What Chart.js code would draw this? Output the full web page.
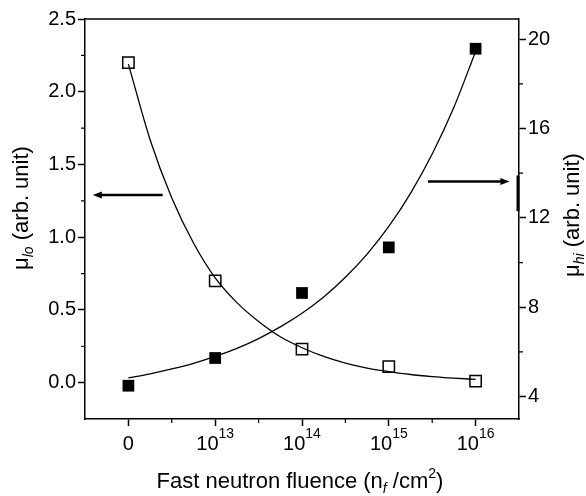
<!DOCTYPE html>
<html>
<head>
<meta charset="utf-8">
<script src="https://cdn.jsdelivr.net/npm/chart.js@4.4.1/dist/chart.umd.min.js"></script>
<style>
  body { margin: 0; background: #fff; }
  #wrap { width: 586px; height: 496px; }
</style>
</head>
<body>
<div id="wrap"><canvas id="chart"></canvas></div>
<script>
/* --------------- Data --------------------- */
const fluencePos = [0, 1, 2, 3, 4];
const fluenceExp = [null, 13, 14, 15, 16]; // "0", then 10^n
const muLo = [2.20, 0.70, 0.23, 0.11, 0.01];
const muHi = [4.49, 5.73, 8.64, 10.68, 19.57];
/* --------------- Fitted curves ------------------------------------------- */
const fitPos = [0, 0.25, 0.5, 0.75, 1, 1.25, 1.5, 1.75, 2, 2.25, 2.5, 2.75, 3, 3.25, 3.5, 3.75, 4];
const fitLo = [2.19, 1.67, 1.27, 0.96, 0.72, 0.55, 0.42, 0.315, 0.24, 0.18, 0.134, 0.10, 0.076, 0.056, 0.042, 0.031, 0.022];
const fitHi = [4.84, 5.02, 5.24, 5.49, 5.80, 6.16, 6.60, 7.12, 7.73, 8.46, 9.34, 10.38, 11.62, 13.10, 14.86, 16.95, 19.45];
/* --------------- Ticks --------------------- */
const loTicks = [0, 0.5, 1, 1.5, 2, 2.5];
const hiTicks = [4, 8, 12, 16, 20];
const xMinor = [0.5, 1.5, 2.5, 3.5];
const loMinor = [0.25, 0.75, 1.25, 1.75, 2.25];
const hiMinor = [6, 10, 14, 18];

const FONT = '"Liberation Sans", Arial, Helvetica, sans-serif';
const fontOf = (p) => (p.italic ? 'italic ' : '') + p.size + 'px ' + FONT;

const pts = (xs, ys) => xs.map((x, i) => ({ x: x, y: ys[i] }));

/* draw a row of text pieces (sub/superscripts) centred on cx */
function drawRich(ctx, parts, cx, baseY) {
  let w = 0;
  parts.forEach(p => { ctx.font = fontOf(p); p.w = ctx.measureText(p.t).width; w += p.w; });
  let x = cx - w / 2;
  parts.forEach(p => {
    ctx.font = fontOf(p);
    ctx.fillText(p.t, x, baseY + (p.dy || 0));
    x += p.w;
  });
}

function arrow(ctx, x1, x2, y) {
  // x2 is the tip
  const dir = Math.sign(x2 - x1);
  ctx.lineWidth = 2.5;
  ctx.beginPath();
  ctx.moveTo(x1, y);
  ctx.lineTo(x2 - dir * 6, y);
  ctx.stroke();
  ctx.beginPath();
  ctx.moveTo(x2, y);
  ctx.lineTo(x2 - dir * 9, y - 3.5);
  ctx.lineTo(x2 - dir * 9, y + 3.5);
  ctx.closePath();
  ctx.fill();
}

const decor = {
  id: 'decor',
  afterDraw(chart) {
    const { ctx, chartArea: a, scales } = chart;
    const x = scales.x, y = scales.y, y2 = scales.y2;
    ctx.save();
    ctx.strokeStyle = '#000';
    ctx.fillStyle = '#000';

    // top frame line
    ctx.lineWidth = 1.5;
    ctx.beginPath();
    ctx.moveTo(a.left, a.top);
    ctx.lineTo(a.right, a.top);
    ctx.stroke();

    // minor ticks
    ctx.lineWidth = 1.2;
    ctx.beginPath();
    xMinor.forEach(v => { const px = x.getPixelForValue(v); ctx.moveTo(px, a.bottom); ctx.lineTo(px, a.bottom + 4); });
    loMinor.forEach(v => { const py = y.getPixelForValue(v); ctx.moveTo(a.left, py); ctx.lineTo(a.left - 4, py); });
    hiMinor.forEach(v => { const py = y2.getPixelForValue(v); ctx.moveTo(a.right, py); ctx.lineTo(a.right + 4, py); });
    ctx.stroke();

    // thick mark on the right axis
    ctx.lineWidth = 3;
    ctx.beginPath();
    ctx.moveTo(a.right - 1, y2.getPixelForValue(13.9));
    ctx.lineTo(a.right - 1, y2.getPixelForValue(12.3));
    ctx.stroke();

    // x tick labels with powers of ten
    ctx.textAlign = 'left';
    ctx.textBaseline = 'alphabetic';
    fluencePos.forEach((v, i) => {
      const px = x.getPixelForValue(v);
      if (fluenceExp[i] === null) {
        drawRich(ctx, [{ t: '0', size: 20 }], px, 450);
      } else {
        drawRich(ctx, [{ t: '10', size: 20 }, { t: String(fluenceExp[i]), size: 14, dy: -12 }], px, 450);
      }
    });

    // x title
    drawRich(ctx, [
      { t: 'Fast neutron fluence (n', size: 22 },
      { t: 'f', size: 14, italic: true, dy: 5 },
      { t: ' /cm', size: 22 },
      { t: '2', size: 14, dy: -10 },
      { t: ')', size: 22 }
    ], (a.left + a.right) / 2 - 2, 488);

    // left title
    ctx.save();
    ctx.translate(27.5, 208);
    ctx.rotate(-Math.PI / 2);
    drawRich(ctx, [
      { t: 'μ', size: 22 },
      { t: 'lo', size: 14, italic: true, dy: 5 },
      { t: ' (arb. unit)', size: 22 }
    ], 0, 0);
    ctx.restore();

    // right title
    ctx.save();
    ctx.translate(578.5, 215);
    ctx.rotate(-Math.PI / 2);
    drawRich(ctx, [
      { t: 'μ', size: 22 },
      { t: 'hi', size: 14, italic: true, dy: 5 },
      { t: ' (arb. unit)', size: 22 }
    ], 0, 0);
    ctx.restore();

    // arrows pointing at the axes
    arrow(ctx, x.getPixelForValue(0.395), x.getPixelForValue(-0.41), y.getPixelForValue(1.29));
    arrow(ctx, x.getPixelForValue(3.45), x.getPixelForValue(4.39), y2.getPixelForValue(13.63));

    ctx.restore();
  }
};

const axisBase = {
  grid: { drawOnChartArea: false, tickLength: 7, tickWidth: 1.5, tickColor: '#000' },
  border: { color: '#000', width: 1.5 }
};

new Chart(document.getElementById('chart'), {
  type: 'scatter',
  plugins: [decor],
  data: {
    datasets: [
      {
        data: pts(fluencePos, muLo), yAxisID: 'y',
        pointStyle: 'rect', pointRadius: 8, borderWidth: 1.5,
        borderColor: '#000', backgroundColor: 'rgba(0,0,0,0)'
      },
      {
        data: pts(fluencePos, muHi), yAxisID: 'y2',
        pointStyle: 'rect', pointRadius: 8.3, borderWidth: 0,
        borderColor: '#000', backgroundColor: '#000'
      },
      {
        data: pts(fitPos, fitLo), yAxisID: 'y', showLine: true,
        pointRadius: 0, borderWidth: 1.3, borderColor: '#000',
        cubicInterpolationMode: 'monotone'
      },
      {
        data: pts(fitPos, fitHi), yAxisID: 'y2', showLine: true,
        pointRadius: 0, borderWidth: 1.3, borderColor: '#000',
        cubicInterpolationMode: 'monotone'
      }
    ]
  },
  options: {
    responsive: true,
    maintainAspectRatio: false,
    animation: false,
    events: [],
    layout: { padding: { top: 19, left: 0, right: 0, bottom: 0 } },
    plugins: { legend: { display: false }, tooltip: { enabled: false } },
    scales: {
      x: {
        ...axisBase,
        type: 'linear', min: -0.5, max: 4.5,
        afterBuildTicks: s => { s.ticks = fluencePos.map(v => ({ value: v })); },
        ticks: { display: false },
        afterFit: s => { s.height = 77; }
      },
      y: {
        ...axisBase,
        type: 'linear', position: 'left', min: -0.25, max: 2.5,
        afterBuildTicks: s => { s.ticks = loTicks.map(v => ({ value: v })); },
        ticks: { color: '#000', padding: 2, font: { family: FONT, size: 20 }, callback: v => v.toFixed(1) },
        afterFit: s => { s.width = 85; }
      },
      y2: {
        ...axisBase,
        type: 'linear', position: 'right', min: 3, max: 20.9,
        afterBuildTicks: s => { s.ticks = hiTicks.map(v => ({ value: v })); },
        ticks: { color: '#000', padding: 2, font: { family: FONT, size: 20 }, callback: v => String(v) },
        afterFit: s => { s.width = 67; }
      }
    }
  }
});
</script>
</body>
</html>
